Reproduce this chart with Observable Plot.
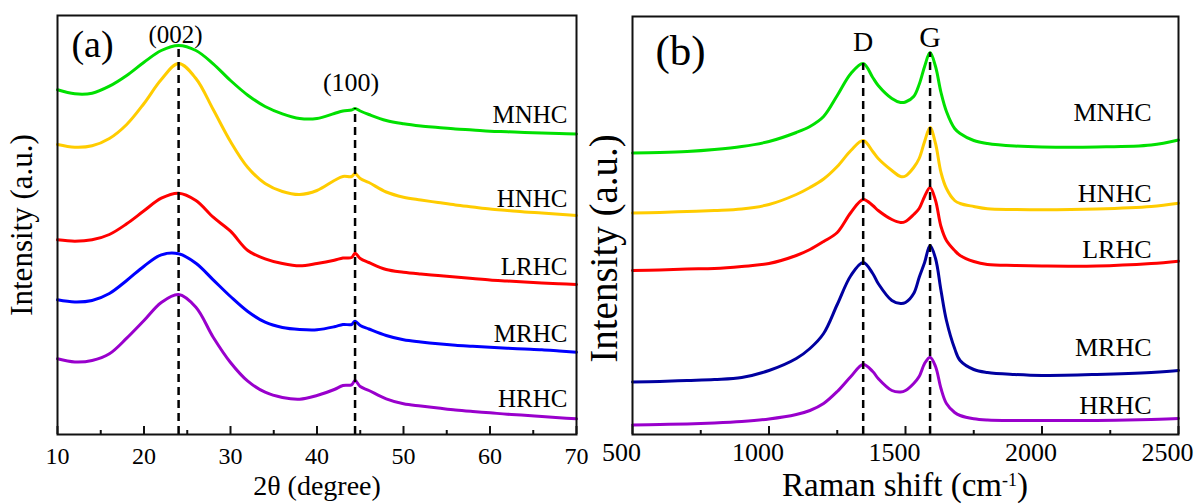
<!DOCTYPE html>
<html><head><meta charset="utf-8">
<script src="https://cdn.jsdelivr.net/npm/d3@7"></script>
<script src="https://cdn.jsdelivr.net/npm/@observablehq/plot@0.6"></script>
<style>
html,body{margin:0;padding:0;background:#fff;}
#chart{position:relative;width:1197px;height:504px;overflow:hidden;font-family:"Liberation Serif","Times New Roman",serif;}
#left,#right{position:absolute;top:0;}
#left{left:0;} #right{left:585px;}
#ramanTitle{position:absolute;left:632px;width:546px;top:468.8px;text-align:center;font-size:33px;line-height:33px;color:#000;white-space:nowrap;}
#ramanTitle sup{font-size:18px;line-height:0;vertical-align:10px;}
</style></head><body>
<div id="chart"><div id="left"></div><div id="right"></div><div id="ramanTitle">Raman shift (cm<sup>-1</sup>)</div></div>
<script>
const sampleNames = ["MNHC", "HNHC", "LRHC", "MRHC", "HRHC"];
const xrdColors = ["#00e000", "#ffcc00", "#ff0000", "#0000ff", "#9900cc"];
const ramanColors = ["#00e000", "#ffcc00", "#ff0000", "#0000a0", "#9900cc"];

// ---------- (a) XRD ----------
const xrdAngle = [10,12,14,16,18,20,22,24,26,28,30,32,34,36,38,40,42,43,44,44.4,45,46,48,50,52,54,56,58,60,62,64,66,68,70];
const xrdMNHC = [344.7,340.7,341.3,348.3,359,372.3,384,389,384,370.7,354,339.3,328,320.7,316,316,321,323.5,324.5,326,323.5,320,314,310.7,308.5,307,305.5,304.5,303.3,302.7,302,301.5,301,300.5];
const xrdHNHC = [290,287.3,288.7,296,310,331,355,371,356,325,293,267,251,243,240,244,254,258,258,261,256,252,242.5,237.3,234.5,232,229.5,227.5,225.5,224,222.5,221.5,220.3,219];
const xrdLRHC = [194.7,193.3,194.7,200,210.7,223.7,236.3,241.3,234,217.3,203.3,184,175.7,171,168.7,171,174.3,176.5,177,181.3,176,172,165,162.3,160.5,159,157.5,156,154.5,153.5,152.5,151.5,150.7,150];
const xrdMRHC = [134.7,132.5,134,141,154,168.3,179.7,180.7,171.3,154.7,138,123,112.3,107,105,104.7,107.7,110,110,113.3,109,105.5,99,94.7,92.5,90.7,89.3,88.3,87.3,86.3,85.5,84.7,83.5,82.3];
const xrdHRHC = [75.7,72.5,74,80.7,96.3,114,132,140,127.3,97.3,72,53.3,42.3,37,35.3,39,45,49,49.7,54,48,44,35.7,30.7,28.5,26.5,24.5,23,21.7,20.3,19.3,18,16.8,15.7];
const xrdMajorTicks = [10,20,30,40,50,60,70];
const xrdMinorTicks = [15,25,35,45,55,65];
const xrdPeakPos = [24.0, 44.4];
const xrdPeakNames = ["(002)", "(100)"];
const xrdLabelY = [311.3, 228, 159.7, 93, 27.5];

// ---------- (b) Raman ----------
const ramanShift = [500,600,700,800,900,1000,1100,1150,1200,1250,1300,1345,1380,1400,1450,1482,1500,1530,1550,1570,1590,1610,1630,1650,1680,1700,1750,1800,1900,2000,2200,2400,2500];
const ramanMNHC = [281.5,282,283,285,288,293,302,308,318,339,361,371,357,349,336,332,332.5,338,350,368,382,368,342,323,306,301,294,291,288.5,287.5,287.5,289.5,294.5];
const ramanHNHC = [221.5,222,223,224,225.5,230,240,247,255.5,268,284,294,283,276,264,258,258.5,267,276,293,307,291,262,246,234,231,228,225.7,225,224.7,225.5,228,231.3];
const ramanLRHC = [164,164.5,165.5,166,168,171,179,185,193,202,222,235,229,224,215,212,213,220,226,238,247,234,208,194,184,179,173,170,169,168.5,168.5,171,173.3];
const ramanMRHC = [52.5,53,54,55,57,64,76,86,101,130,159,172,161,151,134,131,132,141,157,172,189,176,144,114,86,74,65,62,60,59,60,62,64];
const ramanHRHC = [9.5,10,10.5,11.5,13,15.5,20,24,31,43,58,70,63,56,44,42.5,44,51,58,71,77.3,68,46,31,22,19,15.7,14.5,14,14,14,15,16];
const ramanMajorTicks = [500,1000,1500,2000,2500];
const ramanMinorTicks = [750,1250,1750,2250];
const ramanPeakPos = [1345, 1590];
const ramanPeakNames = ["D", "G"];
const ramanLabelY = [313.3, 233, 176.5, 79, 21];

const FONT = "'Liberation Serif', 'Times New Roman', serif";

function tidy(xs, seriesList) {
  const rows = [];
  seriesList.forEach((vals, i) => xs.forEach((x, j) => rows.push({name: sampleNames[i], x, y: vals[j]})));
  return rows;
}
function peakRows(xs, seriesList, pos, names) {
  return pos.map((p, k) => {
    const j = xs.indexOf(p);
    return {x: p, top: d3.max(seriesList, s => s[j]), name: names[k]};
  });
}

// Left panel
const xrdSeries = [xrdMNHC, xrdHNHC, xrdLRHC, xrdMRHC, xrdHRHC];
const xrdRows = tidy(xrdAngle, xrdSeries);
const xrdPeaks = peakRows(xrdAngle, xrdSeries, xrdPeakPos, xrdPeakNames);
const xrdLabels = sampleNames.map((n, i) => ({name: n, y: xrdLabelY[i]}));

const left = Plot.plot({
  width: 585, height: 504,
  marginLeft: 57, marginRight: 9, marginTop: 15, marginBottom: 70,
  x: {domain: [10, 70]},
  y: {domain: [0, 419], axis: null},
  color: {domain: sampleNames, range: xrdColors},
  style: {fontFamily: FONT, fontSize: "24px", color: "#000", background: "transparent", overflow: "visible"},
  marks: [
    Plot.line(xrdRows, {x: "x", y: "y", z: "name", stroke: "name", strokeWidth: 3, curve: "catmull-rom"}),
    Plot.ruleX(xrdPeaks, {x: "x", y1: 0, y2: "top", stroke: "#000", strokeWidth: 2.5, strokeDasharray: "8,5"}),
    Plot.text(xrdPeaks.slice(0, 1), {x: "x", y: "top", text: "name", lineAnchor: "bottom", fontSize: 25, dx: -3, dy: -2.5}),
    Plot.text(xrdPeaks.slice(1), {x: "x", y: "top", text: "name", lineAnchor: "bottom", fontSize: 26, dx: -4, dy: -18}),
    Plot.ruleX(xrdMajorTicks, {x: d => d, y1: 0, y2: 8, stroke: "#111", strokeWidth: 2}),
    Plot.ruleX(xrdMinorTicks, {x: d => d, y1: 0, y2: 4, stroke: "#111", strokeWidth: 2}),
    Plot.frame({stroke: "#111", strokeWidth: 2}),
    Plot.axisX(xrdMajorTicks, {tickSize: 0, tickPadding: 12, fontSize: 24, tickFormat: d => String(d), label: null}),
    Plot.text(xrdLabels, {y: "y", text: "name", frameAnchor: "right", textAnchor: "end", lineAnchor: "bottom", dx: -9, fontSize: 25}),
    Plot.text(["(a)"], {frameAnchor: "top-left", dx: 35, dy: 41, textAnchor: "middle", lineAnchor: "bottom", fontSize: 38}),
    Plot.text(["2θ (degree)"], {frameAnchor: "bottom", textAnchor: "middle", dy: 60, lineAnchor: "bottom", fontSize: 28}),
    Plot.text(["Intensity (a.u.)"], {frameAnchor: "left", textAnchor: "middle", rotate: -90, dx: -35.5, fontSize: 31})
  ]
});
document.getElementById("left").appendChild(left);

// Right panel
const ramanSeries = [ramanMNHC, ramanHNHC, ramanLRHC, ramanMRHC, ramanHRHC];
const ramanRows = tidy(ramanShift, ramanSeries);
const ramanPeaks = peakRows(ramanShift, ramanSeries, ramanPeakPos, ramanPeakNames);
const ramanLabels = sampleNames.map((n, i) => ({name: n, y: ramanLabelY[i]}));

const right = Plot.plot({
  width: 612, height: 504,
  marginLeft: 47, marginRight: 19, marginTop: 16, marginBottom: 70,
  x: {domain: [500, 2500]},
  y: {domain: [0, 418], axis: null},
  color: {domain: sampleNames, range: ramanColors},
  style: {fontFamily: FONT, fontSize: "26px", color: "#000", background: "transparent", overflow: "visible"},
  marks: [
    Plot.line(ramanRows, {x: "x", y: "y", z: "name", stroke: "name", strokeWidth: 3, curve: "catmull-rom"}),
    Plot.ruleX(ramanPeaks, {x: "x", y1: 0, y2: "top", stroke: "#000", strokeWidth: 2.5, strokeDasharray: "8,5"}),
    Plot.text(ramanPeaks.slice(0, 1), {x: "x", y: "top", text: "name", lineAnchor: "bottom", fontSize: 28, dy: -13}),
    Plot.text(ramanPeaks.slice(1), {x: "x", y: "top", text: "name", lineAnchor: "bottom", fontSize: 30, dy: -6}),
    Plot.ruleX(ramanMajorTicks, {x: d => d, y1: 0, y2: 8, stroke: "#111", strokeWidth: 2}),
    Plot.ruleX(ramanMinorTicks, {x: d => d, y1: 0, y2: 4, stroke: "#111", strokeWidth: 2}),
    Plot.frame({stroke: "#111", strokeWidth: 2}),
    Plot.axisX(ramanMajorTicks, {tickSize: 0, tickPadding: 8.5, dx: -11, fontSize: 26, tickFormat: d => String(d), label: null}),
    Plot.text(ramanLabels, {y: "y", text: "name", frameAnchor: "right", textAnchor: "end", lineAnchor: "bottom", dx: -27, fontSize: 26}),
    Plot.text(["(b)"], {frameAnchor: "top-left", dx: 48, dy: 48, textAnchor: "middle", lineAnchor: "bottom", fontSize: 43}),
    Plot.text(["Intensity (a.u.)"], {frameAnchor: "left", textAnchor: "middle", rotate: -90, dx: -28, dy: 23, fontSize: 39})
  ]
});
document.getElementById("right").appendChild(right);
</script>
</body></html>
